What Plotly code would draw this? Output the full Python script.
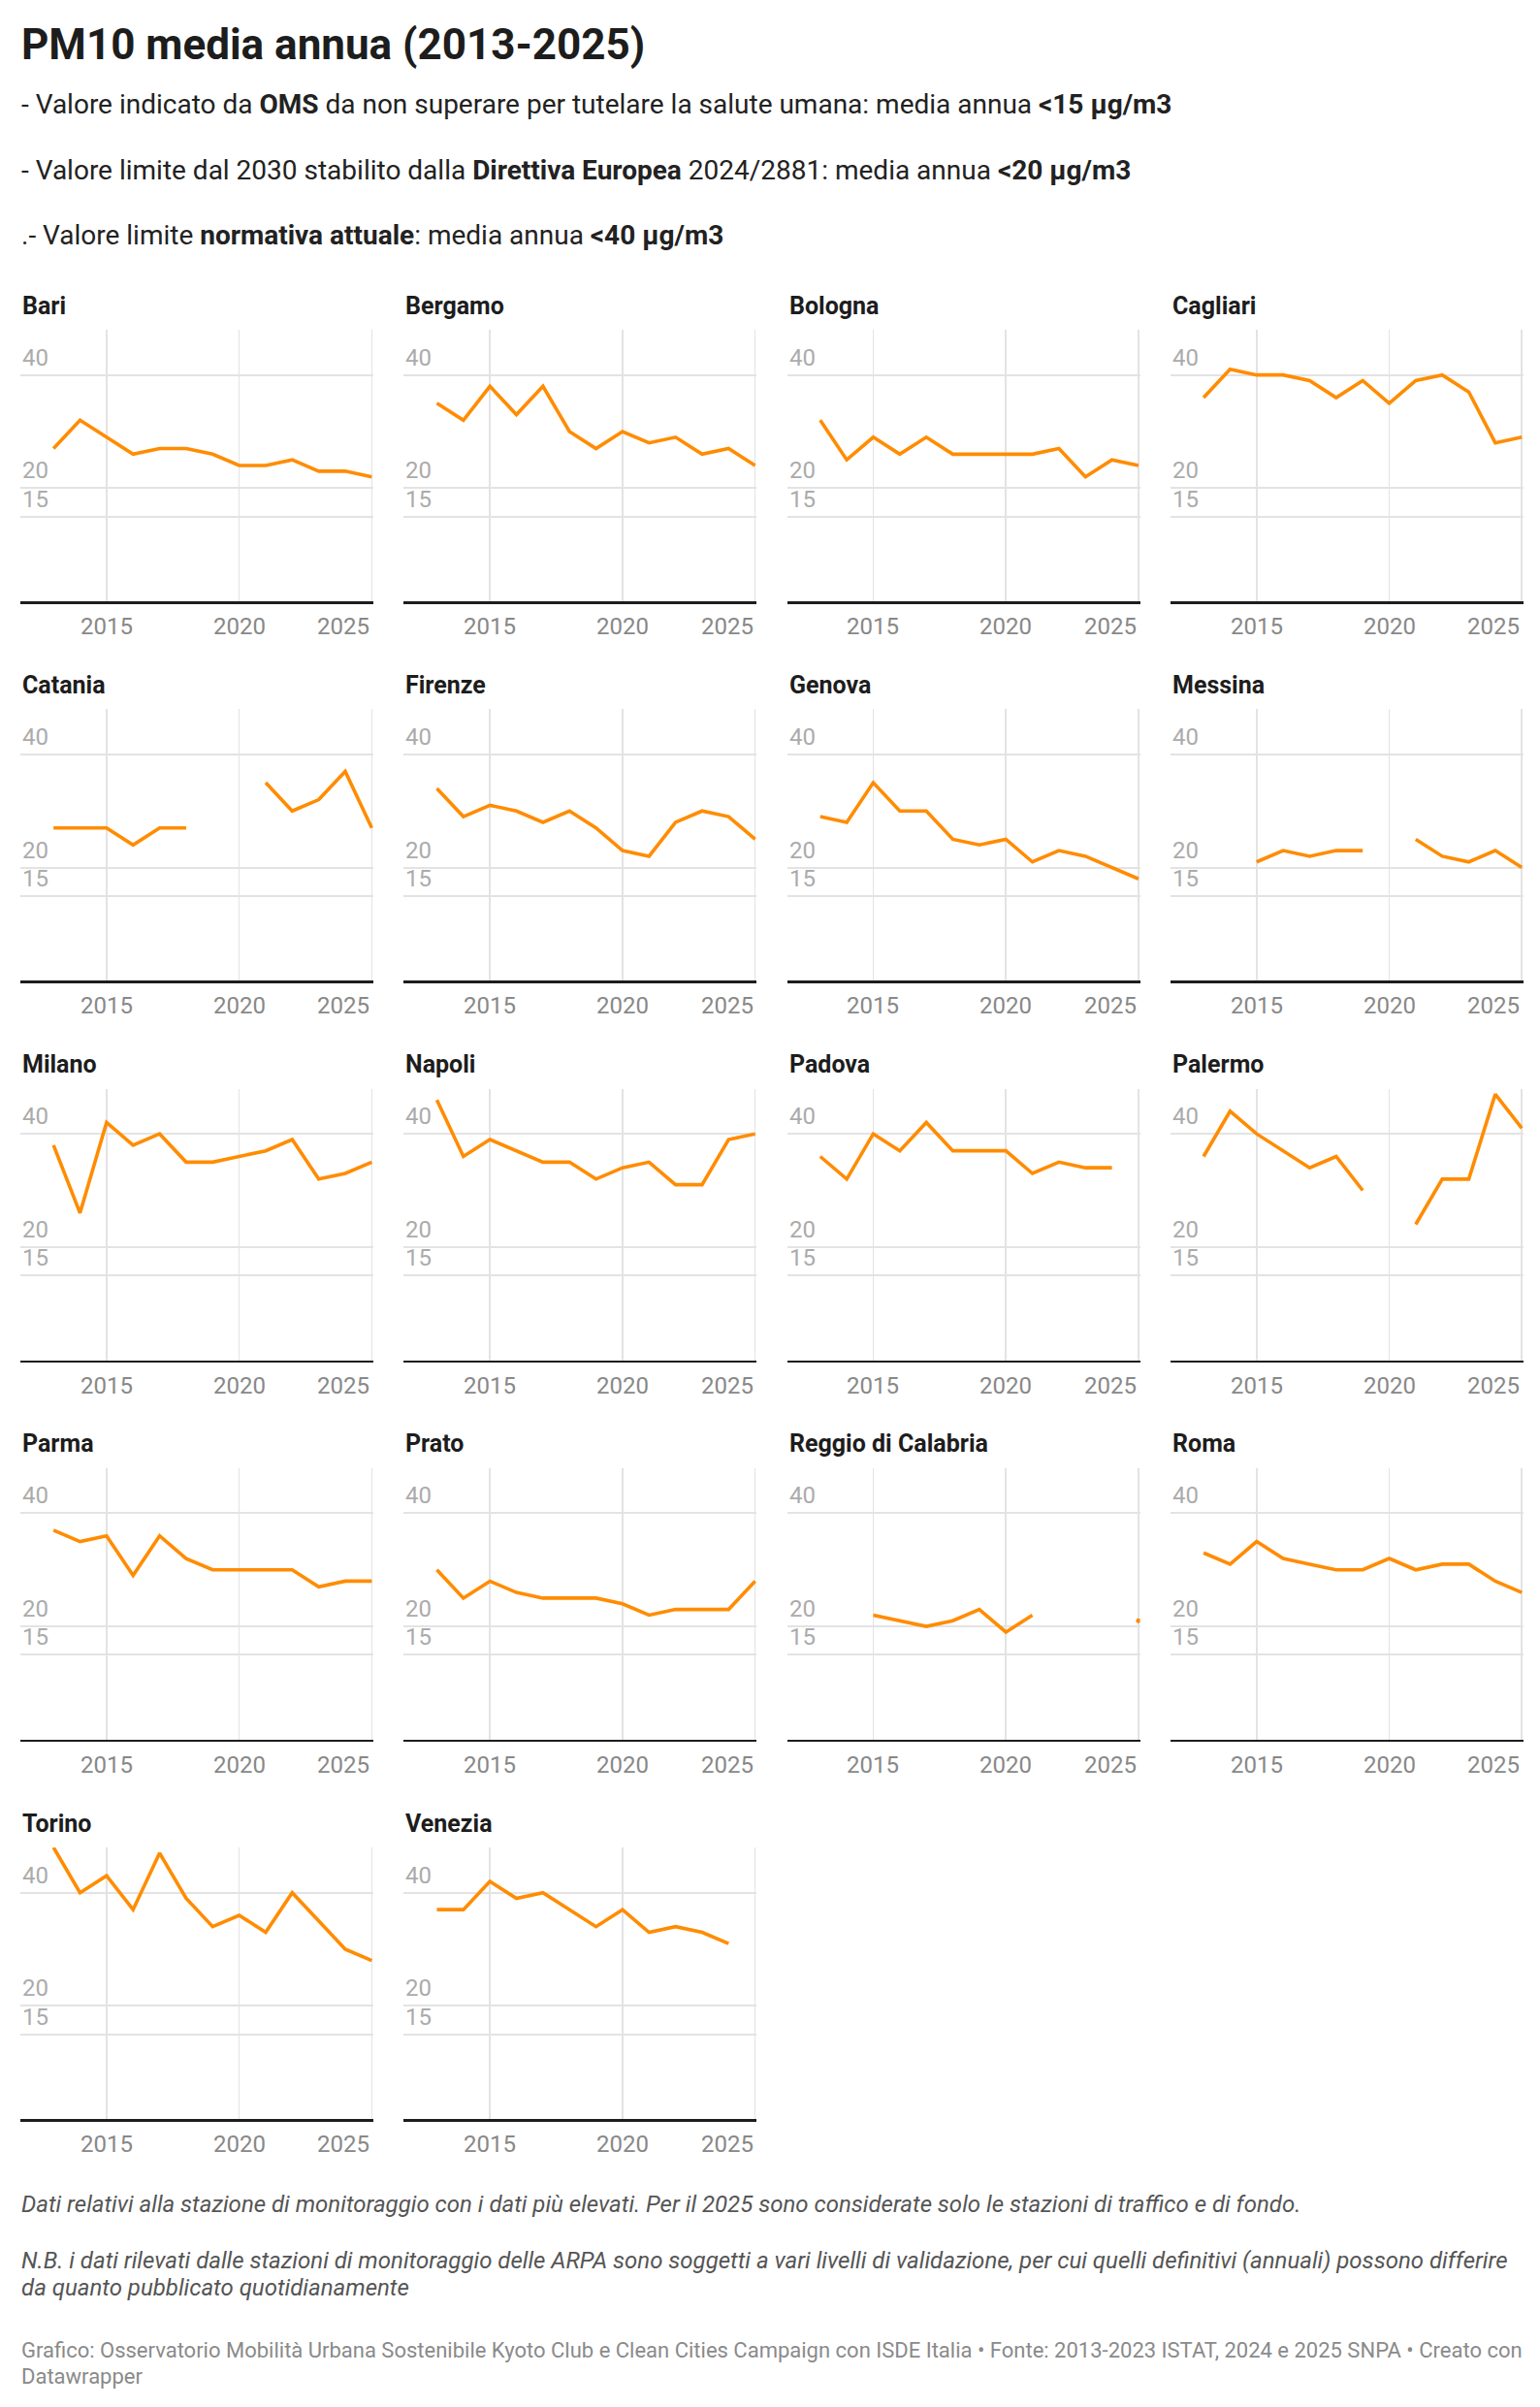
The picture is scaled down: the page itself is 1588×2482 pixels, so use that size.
import plotly.graph_objects as go

# ---------------- data ----------------
years = [2013, 2014, 2015, 2016, 2017, 2018, 2019, 2020, 2021, 2022, 2023, 2024, 2025]
cities = ["Bari", "Bergamo", "Bologna", "Cagliari", "Catania", "Firenze", "Genova", "Messina",
          "Milano", "Napoli", "Padova", "Palermo", "Parma", "Prato", "Reggio di Calabria",
          "Roma", "Torino", "Venezia"]

bari = [27, 32, 29, 26, 27, 27, 26, 24, 24, 25, 23, 23, 22]
bergamo = [35, 32, 38, 33, 38, 30, 27, 30, 28, 29, 26, 27, 24]
bologna = [32, 25, 29, 26, 29, 26, 26, 26, 26, 27, 22, 25, 24]
cagliari = [36, 41, 40, 40, 39, 36, 39, 35, 39, 40, 37, 28, 29]
catania = [27, 27, 27, 24, 27, 27, None, None, 35, 30, 32, 37, 27]
firenze = [34, 29, 31, 30, 28, 30, 27, 23, 22, 28, 30, 29, 25]
genova = [29, 28, 35, 30, 30, 25, 24, 25, 21, 23, 22, 20, 18]
messina = [None, None, 21, 23, 22, 23, 23, None, 25, 22, 21, 23, 20]
milano = [38, 26, 42, 38, 40, 35, 35, 36, 37, 39, 32, 33, 35]
napoli = [46, 36, 39, 37, 35, 35, 32, 34, 35, 31, 31, 39, 40]
padova = [36, 32, 40, 37, 42, 37, 37, 37, 33, 35, 34, 34, None]
palermo = [36, 44, 40, 37, 34, 36, 30, None, 24, 32, 32, 47, 41]
parma = [37, 35, 36, 29, 36, 32, 30, 30, 30, 30, 27, 28, 28]
prato = [30, 25, 28, 26, 25, 25, 25, 24, 22, 23, 23, 23, 28]
reggio = [None, None, 22, 21, 20, 21, 23, 19, 22, None, None, None, 21]
roma = [33, 31, 35, 32, 31, 30, 30, 32, 30, 31, 31, 28, 26]
torino = [48, 40, 43, 37, 47, 39, 34, 36, 33, 40, 35, 30, 28]
venezia = [37, 37, 42, 39, 40, 37, 34, 37, 33, 34, 33, 31, None]

series = [bari, bergamo, bologna, cagliari, catania, firenze, genova, messina, milano,
          napoli, padova, palermo, parma, prato, reggio, roma, torino, venezia]

x_tick_years = [2015, 2020, 2025]
x_tick_labels = ["2015", "2020", "2025"]
y_tick_vals = [15, 20, 40]
y_tick_labels = ["15", "20", "40"]

title = "<b>PM10 media annua (2013-2025)</b>"
subtitle_lines = [
    "- Valore indicato da <b>OMS</b> da non superare per tutelare la salute umana: media annua <b>&lt;15 µg/m3</b>",
    "- Valore limite dal 2030 stabilito dalla <b>Direttiva Europea</b> 2024/2881: media annua <b>&lt;20 µg/m3</b>",
    ".- Valore limite <b>normativa attuale</b>: media annua <b>&lt;40 µg/m3</b>",
]
note1_lines = ["Dati relativi alla stazione di monitoraggio con i dati più elevati. Per il 2025 sono considerate solo le stazioni di traffico e di fondo."]
note2_lines = ["N.B. i dati rilevati dalle stazioni di monitoraggio delle ARPA sono soggetti a vari livelli di validazione, per cui quelli definitivi (annuali) possono differire",
               "da quanto pubblicato quotidianamente"]
credit_lines = ["Grafico: Osservatorio Mobilità Urbana Sostenibile Kyoto Club e Clean Cities Campaign con ISDE Italia • Fonte: 2013-2023 ISTAT, 2024 e 2025 SNPA • Creato con",
                "Datawrapper"]

# ---------------- layout helpers ----------------
W, H = 1588, 2482
FONT = "Roboto"
ORANGE = "#ff8c00"


def px(x):
    return x / W


def py(y):
    return 1 - y / H


N_COLS = 4
COL_LEFT0, COL_PITCH, PANEL_W = 21, 395.3, 364
ROW_TOP0, ROW_PITCH, PANEL_H = 340, 391.25, 280

fig = go.Figure()
annotations = []
layout_axes = {}

for i, (city, vals) in enumerate(zip(cities, series)):
    r, c = divmod(i, N_COLS)
    left = COL_LEFT0 + c * COL_PITCH
    right = left + PANEL_W
    top = ROW_TOP0 + r * ROW_PITCH
    bottom = top + PANEL_H
    n = i + 1
    xa = "x" if n == 1 else f"x{n}"
    ya = "y" if n == 1 else f"y{n}"
    xkey = "xaxis" if n == 1 else f"xaxis{n}"
    ykey = "yaxis" if n == 1 else f"yaxis{n}"

    layout_axes[xkey] = dict(
        domain=[px(left), px(right)], anchor=ya, range=[2011.75, 2025.06],
        tickvals=x_tick_years, showticklabels=False, ticks="",
        showgrid=True, gridcolor="#e3e3e3", gridwidth=1.6, zeroline=False,
        showline=True, linecolor="#1d1d1d", linewidth=2.6, fixedrange=True,
    )
    layout_axes[ykey] = dict(
        domain=[py(bottom), py(top)], anchor=xa, range=[0, 48],
        tickvals=y_tick_vals, showticklabels=False, ticks="",
        showgrid=True, gridcolor="#e3e3e3", gridwidth=2, zeroline=False,
        showline=False, fixedrange=True,
    )

    fig.add_trace(go.Scatter(
        x=years, y=vals, mode="lines", xaxis=xa, yaxis=ya,
        line=dict(color=ORANGE, width=3.6, shape="linear"),
        connectgaps=False, showlegend=False, hoverinfo="skip", cliponaxis=False,
    ))
    # isolated single points (no neighbours) drawn as dots
    iso_x, iso_y = [], []
    for k, v in enumerate(vals):
        if v is None:
            continue
        prev_none = k == 0 or vals[k - 1] is None
        next_none = k == len(vals) - 1 or vals[k + 1] is None
        if prev_none and next_none:
            iso_x.append(years[k])
            iso_y.append(v)
    if iso_x:
        fig.add_trace(go.Scatter(
            x=iso_x, y=iso_y, mode="markers", xaxis=xa, yaxis=ya,
            marker=dict(color=ORANGE, size=5), showlegend=False,
            hoverinfo="skip", cliponaxis=True,
        ))

    # panel title
    annotations.append(dict(
        text=f"<b>{city}</b>", x=px(left), y=py(top - 25), xref="paper", yref="paper",
        xanchor="left", yanchor="middle", showarrow=False,
        font=dict(family=FONT, size=25, color="#1d1d1d"),
    ))
    # y tick labels (above their gridlines)
    for v, lab in zip(y_tick_vals, y_tick_labels):
        annotations.append(dict(
            text=lab, x=0, y=v, xref=f"{xa} domain", yref=ya,
            xanchor="left", yanchor="middle", yshift=18, showarrow=False,
            font=dict(family=FONT, size=24, color="#ababab"),
        ))
    # x tick labels
    for j, (yr, lab) in enumerate(zip(x_tick_years, x_tick_labels)):
        annotations.append(dict(
            text=lab, x=yr, y=0, xref=xa, yref=f"{ya} domain",
            xanchor="right" if j == len(x_tick_years) - 1 else "center",
            yanchor="middle", yshift=-26, showarrow=False,
            font=dict(family=FONT, size=24, color="#888888"),
        ))

# header
annotations.append(dict(
    text=title, x=px(20), y=py(46), xref="paper", yref="paper",
    xanchor="left", yanchor="middle", showarrow=False,
    font=dict(family=FONT, size=44, color="#1d1d1d"),
))
for k, line in enumerate(subtitle_lines):
    annotations.append(dict(
        text=line, x=px(20), y=py(108 + k * 67.5), xref="paper", yref="paper",
        xanchor="left", yanchor="middle", showarrow=False,
        font=dict(family=FONT, size=28, color="#222222"),
    ))


def add_lines(lines, y0, step, size, color, italic):
    for k, line in enumerate(lines):
        txt = f"<i>{line}</i>" if italic else line
        annotations.append(dict(
            text=txt, x=px(20), y=py(y0 + k * step), xref="paper", yref="paper",
            xanchor="left", yanchor="middle", showarrow=False,
            font=dict(family=FONT, size=size, color=color),
        ))


# footer
add_lines(note1_lines, 2273, 28, 24, "#555555", True)
add_lines(note2_lines, 2331, 28, 24, "#555555", True)
add_lines(credit_lines, 2423, 27, 22, "#8a8a8a", False)

fig.update_layout(
    width=W, height=H,
    margin=dict(l=0, r=0, t=0, b=0, autoexpand=False),
    paper_bgcolor="white", plot_bgcolor="white",
    font=dict(family=FONT),
    annotations=annotations,
    showlegend=False,
    **layout_axes,
)

fig.write_html("out.html", config={"displayModeBar": False, "staticPlot": True},
               post_script="document.body.style.margin='0';document.body.style.overflow='hidden';")
